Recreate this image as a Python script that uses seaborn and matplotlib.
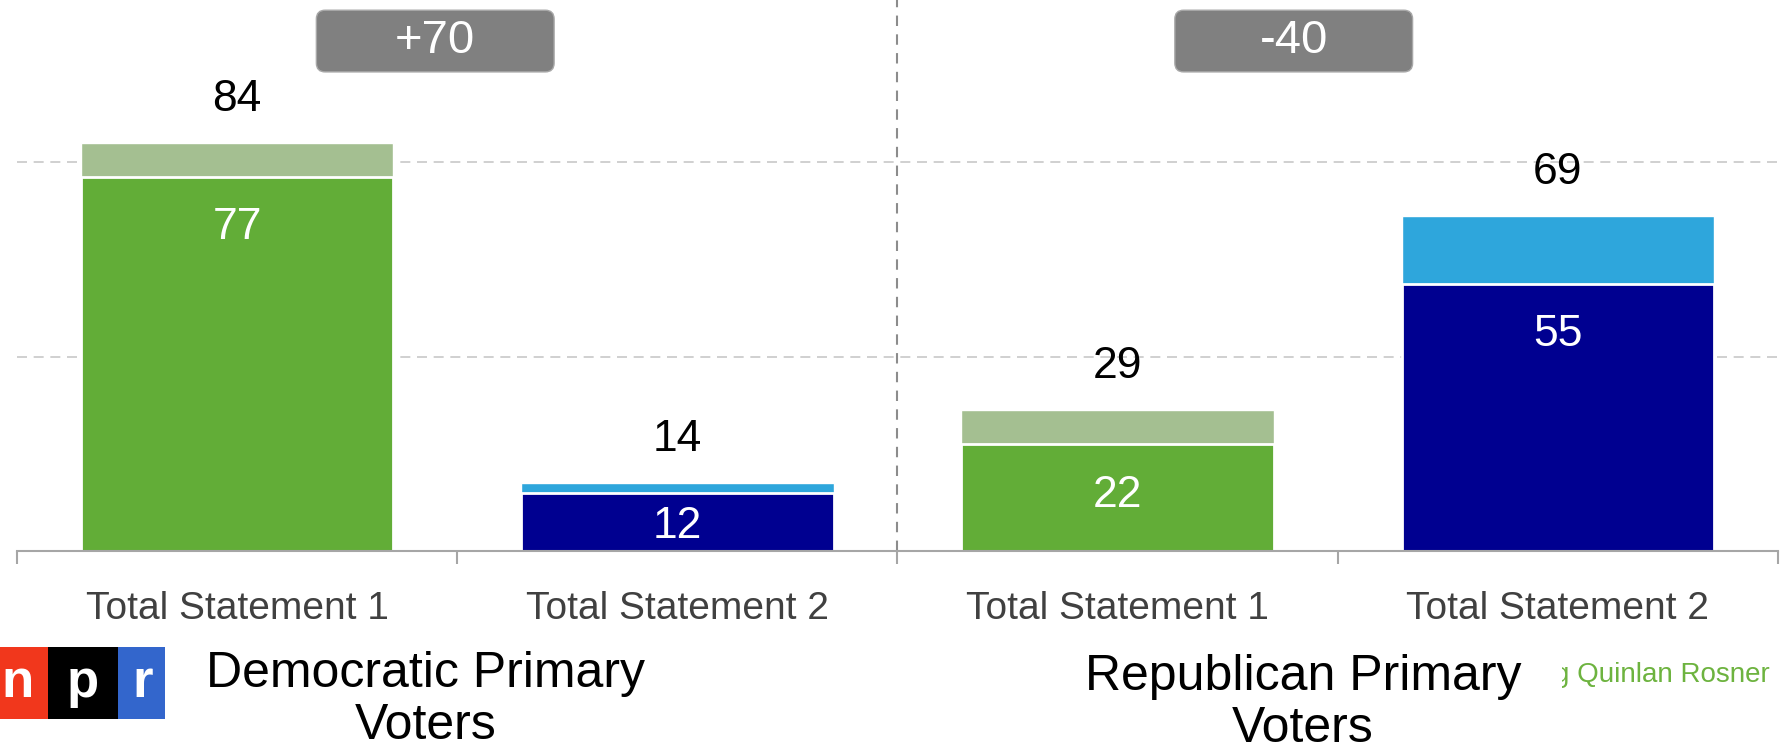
import matplotlib
matplotlib.use("Agg")
import matplotlib.pyplot as plt
from matplotlib.patches import FancyBboxPatch, Rectangle
from matplotlib.transforms import Bbox, TransformedBbox
import pandas as pd
import seaborn as sns

# data
bar_keys = ["dem_s1", "dem_s2", "rep_s1", "rep_s2"]
tick_labels = ["Total Statement 1", "Total Statement 2", "Total Statement 1", "Total Statement 2"]
totals = [84, 14, 29, 69]
strong = [77, 12, 22, 55]
net_labels = ["+70", "-40"]
group_labels = ["Democratic Primary\nVoters", "Republican Primary\nVoters"]
source = "g Quinlan Rosner"

strong_colors = ["#62ad37", "#000090", "#62ad37", "#000090"]
soft_colors = ["#a4bf91", "#2ea6dc", "#a4bf91", "#2ea6dc"]

df = pd.DataFrame({"bar": bar_keys, "total": totals, "strong": strong})

sns.set_style("white")
plt.rcParams["font.family"] = ["Liberation Sans", "DejaVu Sans"]

W, H = 1781, 752
fig = plt.figure(figsize=(W / 100, H / 100), dpi=100)
ax = fig.add_axes([17 / W, (H - 551) / H, (1778 - 17) / W, 551 / H])

sns.barplot(data=df, x="bar", y="total", hue="bar", order=bar_keys, hue_order=bar_keys,
            palette=soft_colors, saturation=1, width=0.71, legend=False, ax=ax)
sns.barplot(data=df, x="bar", y="strong", hue="bar", order=bar_keys, hue_order=bar_keys,
            palette=strong_colors, saturation=1, width=0.71, legend=False, ax=ax,
            edgecolor="white", linewidth=2)

ax.set_xlim(-0.5, 3.5)
ax.set_ylim(0, 113.4)

# value labels
for i, (t, s) in enumerate(zip(totals, strong)):
    ax.text(i, t + 9, str(t), ha="center", va="center", fontsize=32, color="black")
    ax.text(i, max(s - 10.5, s / 2 - 1), str(s), ha="center", va="center", fontsize=32,
            color="white")

# net difference boxes
for cx, lab in zip([0.45, 2.40], net_labels):
    box = FancyBboxPatch((cx - 0.27, 98.6), 0.54, 12.7,
                         boxstyle="round,pad=0,rounding_size=0.02", mutation_aspect=90,
                         fc="#808080", ec="#a8a8a8", lw=1, clip_on=False, zorder=3)
    ax.add_patch(box)
    ax.text(cx, 105, lab, ha="center", va="center", fontsize=34, color="white", zorder=4)

# grid, separators, axis
ax.set_yticks([40, 80])
ax.yaxis.grid(True, ls=(0, (6, 4)), color="#c8c8c8", lw=1.2)
ax.xaxis.grid(False)
ax.set_axisbelow(True)
ax.tick_params(axis="y", length=0, labelleft=False)
ax.axvline(1.5, color="#8c8c8c", ls=(0, (5, 4)), lw=1.5, zorder=0)

ax.set_xticks(range(4))
ax.set_xticklabels(tick_labels, fontsize=28, color="#404040")
ax.set_xticks([-0.5, 0.5, 1.5, 2.5, 3.5], minor=True)
ax.tick_params(axis="x", which="major", length=0, pad=29)
ax.tick_params(axis="x", which="minor", bottom=True, length=9.5, width=1.5,
               color="#a6a6a6", direction="out")
ax.set_xlabel("")
ax.set_ylabel("")
for side in ["top", "right", "left"]:
    ax.spines[side].set_visible(False)
ax.spines["bottom"].set_color("#a6a6a6")
ax.spines["bottom"].set_linewidth(1.5)

# group labels under the axis
fig.text(426 / W, (H - 700) / H, group_labels[0], ha="center", va="center",
         fontsize=36, linespacing=1.15, color="black")
fig.text(1303 / W, (H - 703) / H, group_labels[1], ha="center", va="center",
         fontsize=36, linespacing=1.15, color="black")

# npr logo
logo_y0, logo_y1 = (H - 719) / H, (H - 647) / H
for x0, x1, c, ch, xc in [(0, 48, "#f1371c", "n", 18), (48, 118, "#000000", "p", 83),
                          (118, 165, "#3366cc", "r", 143)]:
    fig.patches.append(Rectangle((x0 / W, logo_y0), (x1 - x0) / W, logo_y1 - logo_y0,
                                 transform=fig.transFigure, fc=c, ec="none"))
    fig.text(xc / W, (logo_y0 + logo_y1) / 2, ch, ha="center", va="center",
             fontsize=38, fontweight="bold", color="white")

# cropped source credit
src = fig.text(1770 / W, (H - 675) / H, source, ha="right", va="center",
               fontsize=20, color="#6db33f")
src.set_clip_box(TransformedBbox(Bbox([[1562 / W, 0], [1, 1]]), fig.transFigure))

fig.savefig("out.png", dpi=100)
